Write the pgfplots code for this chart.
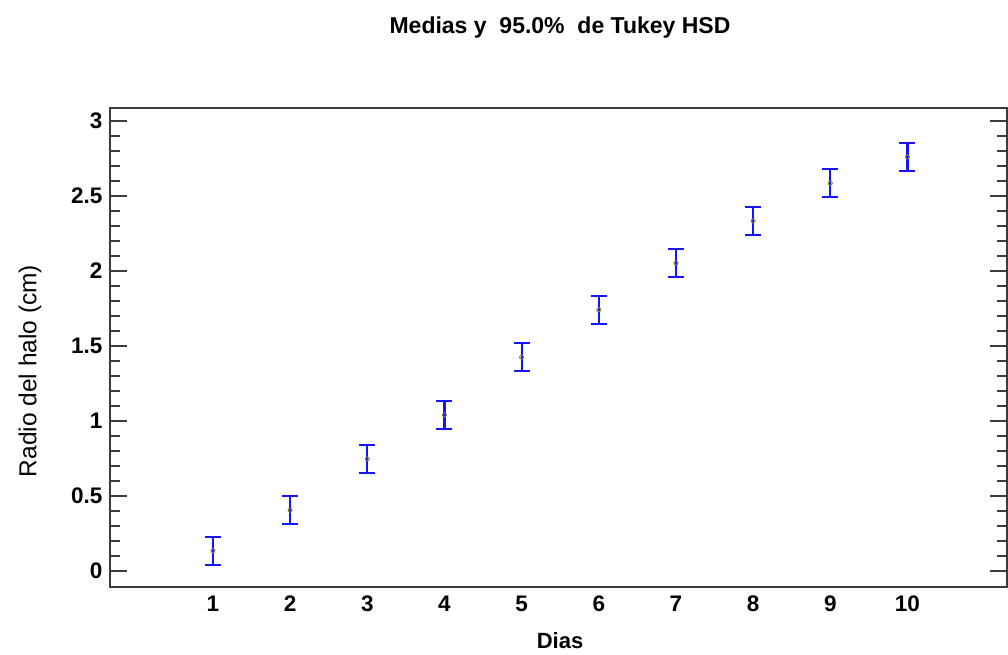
\documentclass[border=0pt]{standalone}
\usepackage{fontspec}
\setmainfont{Liberation Sans}
\usepackage{pgfplots}
\pgfplotsset{compat=1.18}
\definecolor{axgray}{RGB}{60,60,60}
\definecolor{meanc}{RGB}{140,140,40}
\definecolor{barblue}{RGB}{20,20,255}
\pgfplotstableread{
x y e
1 0.135 0.094
2 0.405 0.094
3 0.747 0.094
4 1.040 0.094
5 1.425 0.094
6 1.742 0.094
7 2.053 0.094
8 2.334 0.094
9 2.585 0.094
10 2.760 0.094
}\means
\begin{document}
\begin{tikzpicture}
\useasboundingbox (0,0) rectangle (1008bp,655bp);
\begin{axis}[
  at={(110bp,68bp)}, anchor=south west,
  width=897bp, height=479bp, scale only axis,
  xmin=-0.334, xmax=11.29, ymin=-0.107, ymax=3.087,
  xtick={1,2,...,10}, ytick={0,0.5,1,1.5,2,2.5,3}, minor y tick num=4,
  x tick style={draw=none},
  y tick style={axgray, line width=1.5bp},
  axis line style={axgray, line width=1.8bp},
  major tick length=17bp, minor tick length=10bp,
  tick label style={font=\fontsize{22.5bp}{26bp}\selectfont\bfseries},
  /pgf/number format/assume math mode=true,
  xticklabel style={yshift=-5bp},
  yticklabel style={xshift=-4bp},
]
\addplot[barblue, only marks, mark=o, mark size=2bp,
  error bars/.cd, y dir=both, y explicit,
  error bar style={barblue, line width=2.2bp, solid},
  error mark options={rotate=90, mark size=8bp, barblue, line width=2.2bp, solid}]
  table[x=x, y=y, y error=e] {\means};
\addplot[only marks, mark=o, mark size=2bp, mark options={meanc, line width=0.8bp, fill=white}]
  table[x=x, y=y] {\means};
\end{axis}
\node[font=\fontsize{23bp}{27bp}\selectfont\bfseries] at (560bp,627bp) {Medias y\ \ 95.0\%\ \ de Tukey HSD};
\node[font=\fontsize{22bp}{26bp}\selectfont\bfseries] at (560bp,14bp) {Dias};
\node[font=\fontsize{24.5bp}{28bp}\selectfont, rotate=90] at (30bp,284bp) {Radio del halo (cm)};
\end{tikzpicture}
\end{document}
